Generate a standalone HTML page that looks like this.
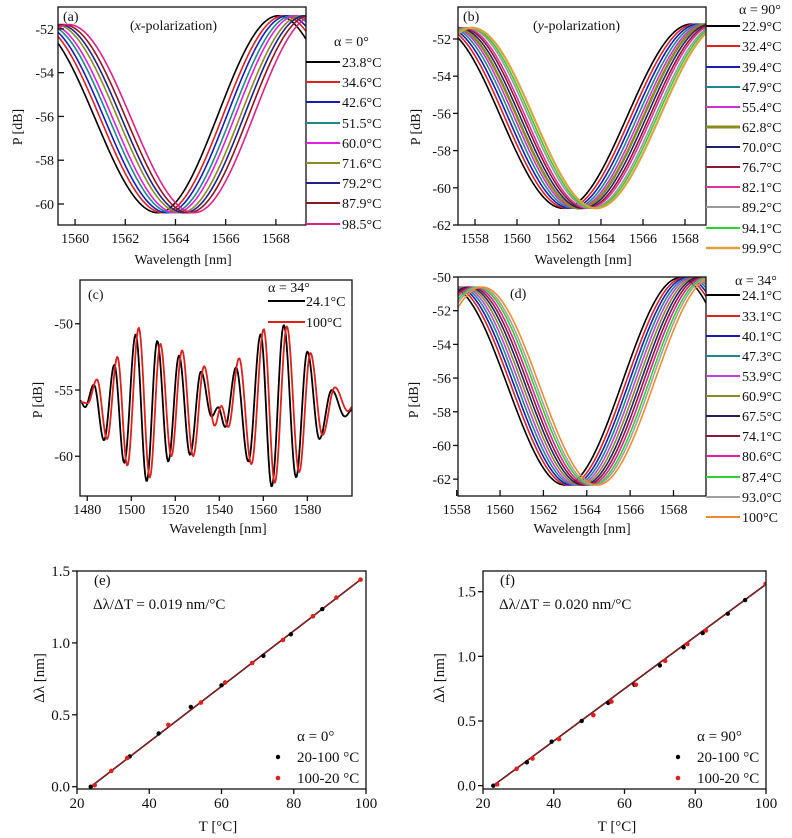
<!DOCTYPE html>
<html><head><meta charset="utf-8">
<style>
html,body{margin:0;padding:0;background:#fff;}
svg{display:block;font-family:"Liberation Serif",serif;}
</style></head>
<body>
<svg id="fig" width="792" height="838" viewBox="0 0 792 838" xmlns="http://www.w3.org/2000/svg"></svg>
<script>
// ---------- DATA ----------
// Panel (a) x-polarization
const aTemps = ["23.8","34.6","42.6","51.5","60.0","71.6","79.2","87.9","98.5"];
const aShifts = [0, 0.21, 0.37, 0.555, 0.705, 0.91, 1.06, 1.235, 1.44];
const aBaseWl = [1553.5, 1558.3, 1563.3, 1568.1, 1573.0];
const aBaseDb = [-60.4, -51.8, -60.4, -51.4, -60.4];
// Panel (b) y-polarization
const bTemps = ["22.9","32.4","39.4","47.9","55.4","62.8","70.0","76.7","82.1","89.2","94.1","99.9"];
const bShifts = [0, 0.18, 0.34, 0.5, 0.64, 0.78, 0.93, 1.07, 1.18, 1.33, 1.435, 1.56];
const bBaseWl = [1550.5, 1556.3, 1562.2, 1568.3, 1574.2];
const bBaseDb = [-61.1, -51.4, -61.1, -51.2, -61.1];
// Panel (c) broadband
const cBlackWl = [1476.7,1479.0,1483.0,1487.6,1492.3,1496.8,1502.0,1507.0,1511.8,1516.8,1521.7,1526.7,1531.7,1536.5,1539.5,1542.7,1547.6,1553.2,1558.8,1563.8,1569.3,1574.9,1580.0,1585.5,1591.1,1597.1,1600.3];
const cBlackDb = [-55.8,-56.3,-54.6,-58.8,-53.1,-60.5,-50.8,-61.9,-51.3,-60.4,-52.4,-59.9,-53.6,-57.0,-56.3,-57.8,-53.3,-60.4,-50.8,-62.3,-50.1,-61.6,-52.1,-58.7,-55.0,-57.0,-56.5];
const cRedWl = [1476.7,1480.2,1484.4,1489.0,1493.7,1498.2,1503.4,1508.4,1513.2,1518.2,1523.1,1528.1,1533.1,1537.9,1540.9,1544.1,1549.0,1554.6,1560.2,1565.2,1570.7,1576.3,1581.4,1586.9,1592.5,1598.5,1600.3];
const cRedDb = [-55.9,-56.0,-54.2,-58.7,-52.5,-60.7,-50.3,-61.6,-51.5,-60.0,-52.0,-60.0,-53.2,-57.7,-56.2,-57.8,-52.6,-60.6,-50.4,-62.0,-50.2,-61.2,-52.2,-58.4,-54.8,-56.6,-56.3];
// Panel (d)
const dTemps = ["24.1","33.1","40.1","47.3","53.9","60.9","67.5","74.1","80.6","87.4","93.0","100"];
const dShifts = [0, 0.17, 0.31, 0.45, 0.58, 0.71, 0.84, 0.97, 1.10, 1.23, 1.34, 1.48];
const dBaseWl = [1552.3, 1557.7, 1563.0, 1568.3, 1573.6];
const dBaseDb = [-62.35, -50.6, -62.35, -50.05, -62.35];
// Panel (e)
const eUpT = [23.8,34.6,42.6,51.5,60.0,71.6,79.2,87.9];
const eUpD = [0,0.21,0.37,0.555,0.705,0.91,1.06,1.235];
const eDownT = [24.9,29.5,33.9,45.3,54.3,61.0,68.5,77.0,85.3,91.8,98.5];
const eDownD = [0.01,0.11,0.2,0.43,0.585,0.725,0.86,1.02,1.185,1.315,1.44];
const eFitT = [23.8, 98.5];
const eFitD = [0, 1.44];
// Panel (f)
const fUpT = [22.9,32.4,39.4,47.9,55.4,62.8,70.0,76.7,82.1,89.2,94.1];
const fUpD = [0,0.18,0.34,0.5,0.64,0.78,0.93,1.07,1.18,1.33,1.435];
const fDownT = [24.0,29.5,34.0,41.5,51.2,56.3,63.2,71.5,77.8,83.0,99.9];
const fDownD = [0.01,0.13,0.21,0.36,0.545,0.65,0.78,0.965,1.095,1.2,1.56];
const fFitT = [22.9, 99.9];
const fFitD = [0, 1.555];

// ---------- HELPERS ----------
const NS = "http://www.w3.org/2000/svg";
const svg = document.getElementById("fig");
function mk(tag, attrs, parent) {
  const e = document.createElementNS(NS, tag);
  for (const k in attrs) e.setAttribute(k, attrs[k]);
  (parent || svg).appendChild(e);
  return e;
}
function txt(s, x, y, size, anchor, parent) {
  const t = mk("text", {x: x, y: y, "font-size": size, "text-anchor": anchor || "start", fill: "#111"}, parent);
  t.textContent = s;
  return t;
}
function cosInterp(xs, ys, x) {
  if (x <= xs[0]) return ys[0];
  for (let i = 0; i < xs.length - 1; i++) {
    if (x <= xs[i+1]) {
      const t = (x - xs[i]) / (xs[i+1] - xs[i]);
      return ys[i] + (ys[i+1] - ys[i]) * (1 - Math.cos(Math.PI * t)) / 2;
    }
  }
  return ys[ys.length - 1];
}
let clipId = 0;
function makeAxes(c) {
  const g = mk("g", {});
  
  
  const X = v => c.box[0] + (v - c.x[0]) / (c.x[1] - c.x[0]) * (c.box[2] - c.box[0]);
  const Y = v => c.box[3] - (v - c.y[0]) / (c.y[1] - c.y[0]) * (c.box[3] - c.box[1]);
  const id = "clip" + (clipId++);
  const cp = mk("clipPath", {id: id}, g);
  mk("rect", {x: c.box[0], y: c.box[1], width: c.box[2]-c.box[0], height: c.box[3]-c.box[1]}, cp);
  const plot = mk("g", {"clip-path": "url(#" + id + ")"}, g);
  
  
  const ax = mk("g", {}, g);
  
  
  c.xticks.forEach((v, i) => {
    const px = X(v);
    const d = c.xOut ? 5 : -6;
    const l = mk("line", {x1: px, x2: px, y1: c.box[3], y2: c.box[3] + d, stroke: "#111", "stroke-width": 1.3}, ax);
    
    
    const t = txt(c.xlabels ? c.xlabels[i] : String(v), px, c.box[3] + c.fs + 4, c.fs, "middle", ax);
    
    
  });
  const ay = mk("g", {}, g);
  
  
  c.yticks.forEach((v, i) => {
    const py = Y(v);
    const d = c.yOut ? -5 : 6;
    const l = mk("line", {x1: c.box[0], x2: c.box[0] + d, y1: py, y2: py, stroke: "#111", "stroke-width": 1.3}, ay);
    
    
    const t = txt(c.ylabels ? c.ylabels[i] : String(v), c.box[0] - (c.yOut ? 7 : 4), py + 5, c.fs, "end", ay);
    
    
  });
  const xt = txt(c.xtitle, c.xtitlePos[0], c.xtitlePos[1], c.fs, "middle", g);
  
  
  const yt = txt(c.ytitle, 0, 0, c.fs, "middle", g);
  yt.setAttribute("transform", "translate(" + c.ytitlePos[0] + "," + c.ytitlePos[1] + ") rotate(-90)");
  
  
  return {g, plot, X, Y, box: c.box};
}
function frame(A) {
  const r = mk("rect", {x: A.box[0], y: A.box[1], width: A.box[2]-A.box[0], height: A.box[3]-A.box[1], fill: "none", stroke: "#111", "stroke-width": 1.3}, A.g);
  
  
}
function curvePath(A, fn, x0, x1, color, w) {
  let d = "";
  const n = 300;
  for (let i = 0; i <= n; i++) {
    const v = x0 + (x1 - x0) * i / n;
    d += (i ? "L" : "M") + A.X(v).toFixed(2) + "," + A.Y(fn(v)).toFixed(2);
  }
  return mk("path", {d: d, fill: "none", stroke: color, "stroke-width": w, "stroke-linejoin": "round"}, A.plot);
}
function spectrumPanel(c, temps, shifts, baseWl, baseDb, colors, widths, legendY, legendX, alphaText, alphaPos) {
  const A = makeAxes(c);
  temps.forEach((t, i) => {
    const p = curvePath(A, v => cosInterp(baseWl, baseDb, v - shifts[i]), c.x[0], c.x[1], colors[i], widths[i]);
    
    
  });
  frame(A);
  const lg = mk("g", {}, A.g);
  
  
  const at = txt(alphaText, alphaPos[0], alphaPos[1], c.fs, "start", lg);
  
  
  temps.forEach((t, i) => {
    const l = mk("line", {x1: legendX[0], x2: legendX[1], y1: legendY[i], y2: legendY[i], stroke: colors[i], "stroke-width": widths[i] + 0.3}, lg);
    
    
    const tt = txt(t + "°C", legendX[1] + 2, legendY[i] + 5, c.fs, "start", lg);
    
    
  });
  return A;
}
function range(a, b, s) { const r = []; for (let v = a; v <= b + 1e-9; v += s) r.push(Math.round(v * 100) / 100); return r; }

// ---------- PANEL (a) ----------
const colA = ["#000","#e0201b","#1a1ab8","#1a8a8a","#e020e0","#8a8a20","#20208a","#8a1a1a","#e0208a"];
const A1 = spectrumPanel({name: "panel-a", box: [58,7,306,225], x: [1559.32,1569.2], y: [-60.96,-51.0],
  xticks: range(1560,1568,2), yticks: range(-60,-52,2), fs: 14, xOut: false, yOut: false,
  xtitle: "Wavelength [nm]", xtitlePos: [183,264], ytitle: "P [dB]", ytitlePos: [22,127]},
  aTemps, aShifts, aBaseWl, aBaseDb, colA, colA.map(() => 1.6),
  [62,82,102,123,143,163,183,203,224], [306,340], "α = 0°", [334,46]);
let t1 = txt("(a)", 63, 21, 14, "start", A1.g);  
t1 = txt("", 130, 30, 14, "start", A1.g);
t1.innerHTML = '(<tspan font-style="italic">x</tspan>-polarization)';
 

// ---------- PANEL (b) ----------
const colB = ["#000","#e0201b","#1a1ab8","#1a8a8a","#d030d0","#8a8a20","#20206a","#8a1a30","#e030a0","#999999","#30d030","#e0a040"];
const wB = [1.6,1.6,1.6,1.6,1.6,2.6,1.6,1.6,1.6,1.6,1.6,2.2];
const B1 = spectrumPanel({name: "panel-b", box: [458,7,706,225], x: [1557.19,1569.0], y: [-62,-50.28],
  xticks: range(1558,1568,2), yticks: range(-62,-52,2), fs: 14, xOut: false, yOut: true,
  xtitle: "Wavelength [nm]", xtitlePos: [583,264], ytitle: "P [dB]", ytitlePos: [420,127]},
  bTemps, bShifts, bBaseWl, bBaseDb, colB, wB,
  [26,46,67,87,107,127,147,167,187,207,228,248], [706,740], "α = 90°", [739,14]);
t1 = txt("(b)", 463, 21, 14, "start", B1.g);  
t1 = txt("", 533, 30, 14, "start", B1.g);
t1.innerHTML = '(<tspan font-style="italic">y</tspan>-polarization)';
 

// ---------- PANEL (c) ----------
const C1 = makeAxes({name: "panel-c", box: [80,280,352,496], x: [1476.7,1600.3], y: [-63.0,-46.7],
  xticks: range(1480,1580,20), yticks: [-60,-55,-50], fs: 14, xOut: true, yOut: true,
  xtitle: "Wavelength [nm]", xtitlePos: [218,533], ytitle: "P [dB]", ytitlePos: [42,400]});
let pc = curvePath(C1, v => cosInterp(cBlackWl, cBlackDb, v), 1476.7, 1600.3, "#000", 1.8);
 
pc = curvePath(C1, v => cosInterp(cRedWl, cRedDb, v), 1476.7, 1600.3, "#e0201b", 1.8);
 
frame(C1);
t1 = txt("(c)", 88, 299, 14, "start", C1.g);  
{
  const lg = mk("g", {}, C1.g);
   
  let e = txt("α = 34°", 268, 292, 14, "start", lg);  
  e = mk("line", {x1:268,x2:305,y1:301,y2:301,stroke:"#000","stroke-width":2}, lg);  
  e = txt("24.1°C", 306, 306, 14, "start", lg);  
  e = mk("line", {x1:268,x2:305,y1:322,y2:322,stroke:"#e0201b","stroke-width":2}, lg);  
  e = txt("100°C", 306, 327, 14, "start", lg);  
}

// ---------- PANEL (d) ----------
const colD = ["#000","#e0201b","#1a1ab8","#1a8a8a","#c040e0","#8a8a20","#20206a","#8a1a30","#e020a0","#30d030","#a0a0a0","#f08a30"];
const D1 = spectrumPanel({name: "panel-d", box: [458,277,706,496], x: [1558.06,1569.5], y: [-63.0,-50],
  xticks: range(1558,1568,2), yticks: range(-62,-50,2), fs: 14, xOut: false, yOut: true,
  xtitle: "Wavelength [nm]", xtitlePos: [582,533], ytitle: "P [dB]", ytitlePos: [418,400]},
  dTemps, dShifts, dBaseWl, dBaseDb, colD, colD.map(() => 1.6),
  [295,316,336,356,376,396,416,436,456,477,497,517], [706,740], "α = 34°", [735,285]);
t1 = txt("(d)", 510, 298, 14, "start", D1.g);  

// ---------- PANELS (e),(f) ----------
function scatterPanel(c, upT, upD, downT, downD, fitT, fitD, label, slopeText, alphaText, lx) {
  const A = makeAxes(c);
  let l = mk("line", {x1: A.X(fitT[0]), y1: A.Y(fitD[0]), x2: A.X(fitT[1]), y2: A.Y(fitD[1]), stroke: "#200", "stroke-width": 1.6}, A.plot);
   
  l = mk("line", {x1: A.X(fitT[0]), y1: A.Y(fitD[0]), x2: A.X(fitT[1]), y2: A.Y(fitD[1]), stroke: "#b02020", "stroke-width": 0.8}, A.plot);
   
  upT.forEach((t, i) => {
    const p = mk("circle", {cx: A.X(t), cy: A.Y(upD[i]), r: 2.2, fill: "#000"}, A.plot);
     
  });
  downT.forEach((t, i) => {
    const p = mk("circle", {cx: A.X(t), cy: A.Y(downD[i]), r: 2.3, fill: "#e0201b"}, A.plot);
     
  });
  frame(A);
  let e = txt(label, c.box[0] + 17, 585, 15, "start", A.g);  
  e = txt(slopeText, c.box[0] + 16, 609, 15, "start", A.g);  
  const lg = mk("g", {}, A.g);
   
  e = txt(alphaText, lx + 19, 741, 15, "start", lg);  
  e = mk("circle", {cx: lx, cy: 757, r: 2.2, fill: "#000"}, lg);  
  e = txt("20-100 °C", lx + 19, 762, 15, "start", lg);  
  e = mk("circle", {cx: lx, cy: 778, r: 2.3, fill: "#e0201b"}, lg);  
  e = txt("100-20 °C", lx + 19, 783, 15, "start", lg);  
}
scatterPanel({name: "panel-e", box: [77,571,366,789], x: [20,100], y: [-0.016,1.5],
  xticks: range(20,100,20), yticks: [0,0.5,1.0,1.5], ylabels: ["0.0","0.5","1.0","1.5"], fs: 15, xOut: true, yOut: true,
  xtitle: "T [°C]", xtitlePos: [218,831], ytitle: "Δλ [nm]", ytitlePos: [44,678]},
  eUpT, eUpD, eDownT, eDownD, eFitT, eFitD, "(e)", "Δλ/ΔT = 0.019 nm/°C", "α = 0°", 278);
scatterPanel({name: "panel-f", box: [483,571,766,789], x: [20,100], y: [-0.026,1.66],
  xticks: range(20,100,20), yticks: [0,0.5,1.0,1.5], ylabels: ["0.0","0.5","1.0","1.5"], fs: 15, xOut: true, yOut: true,
  xtitle: "T [°C]", xtitlePos: [617,831], ytitle: "Δλ [nm]", ytitlePos: [444,678]},
  fUpT, fUpD, fDownT, fDownD, fFitT, fFitD, "(f)", "Δλ/ΔT = 0.020 nm/°C", "α = 90°", 678);
</script>
</body></html>
